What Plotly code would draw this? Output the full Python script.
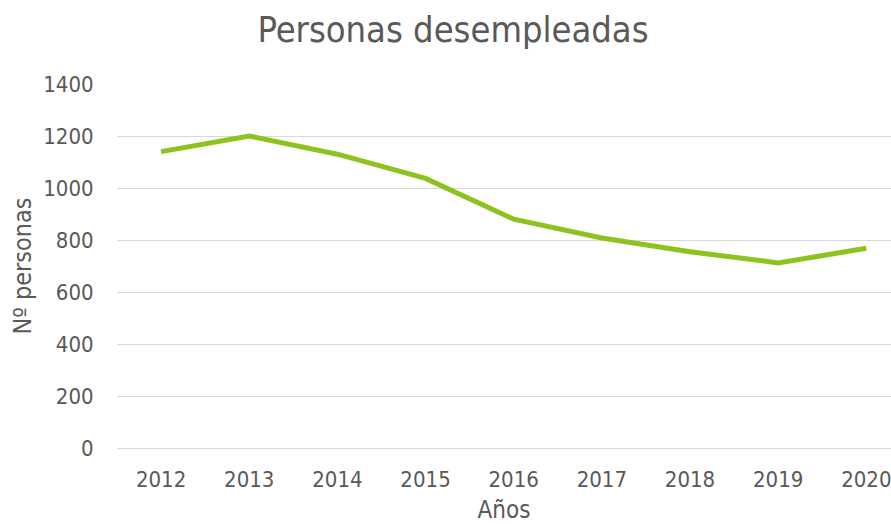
import plotly.graph_objects as go

years = ["2012", "2013", "2014", "2015", "2016", "2017", "2018", "2019", "2020"]
desempleados = [1140, 1200, 1130, 1037, 880, 808, 755, 712, 768]
y_ticks = [0, 200, 400, 600, 800, 1000, 1200, 1400]

FONT = "DejaVu Sans Condensed"
GREY = "#595959"

fig = go.Figure()
fig.add_trace(go.Scatter(
    x=years, y=desempleados, mode="lines",
    line=dict(color="#8dc21f", width=5),
    hoverinfo="x+y",
))

fig.update_layout(
    width=891, height=524,
    margin=dict(l=117, r=0, t=84, b=76),
    paper_bgcolor="white", plot_bgcolor="white",
    showlegend=False,
    title=dict(text="Personas desempleadas", x=453/891, xref="container", xanchor="center",
               y=1 - 29/524, yref="container", yanchor="middle",
               font=dict(family=FONT, size=36, color=GREY)),
    font=dict(family=FONT, color=GREY),
)
fig.update_xaxes(
    type="category", range=[-0.5, 8.28], automargin=False,
    showgrid=False, showline=True, linecolor="#d9d9d9", linewidth=1,
    ticks="outside", ticklen=12, tickcolor="rgba(0,0,0,0)",
    tickfont=dict(family=FONT, size=22, color=GREY),
    title=dict(text="Años", font=dict(family=FONT, size=24, color=GREY), standoff=18),
    fixedrange=True,
)
fig.update_yaxes(
    range=[0, 1400], tickvals=y_ticks, automargin=False,
    showgrid=True, gridcolor="#d9d9d9", gridwidth=1,
    zeroline=False, showline=False,
    ticks="outside", ticklen=18, tickcolor="rgba(0,0,0,0)",
    tickfont=dict(family=FONT, size=22, color=GREY),
    title=dict(text="Nº personas", font=dict(family=FONT, size=25, color=GREY), standoff=4),
    fixedrange=True,
)

fig.write_html("out.html", config={"displayModeBar": False},
               post_script="document.body.style.margin='0';")
